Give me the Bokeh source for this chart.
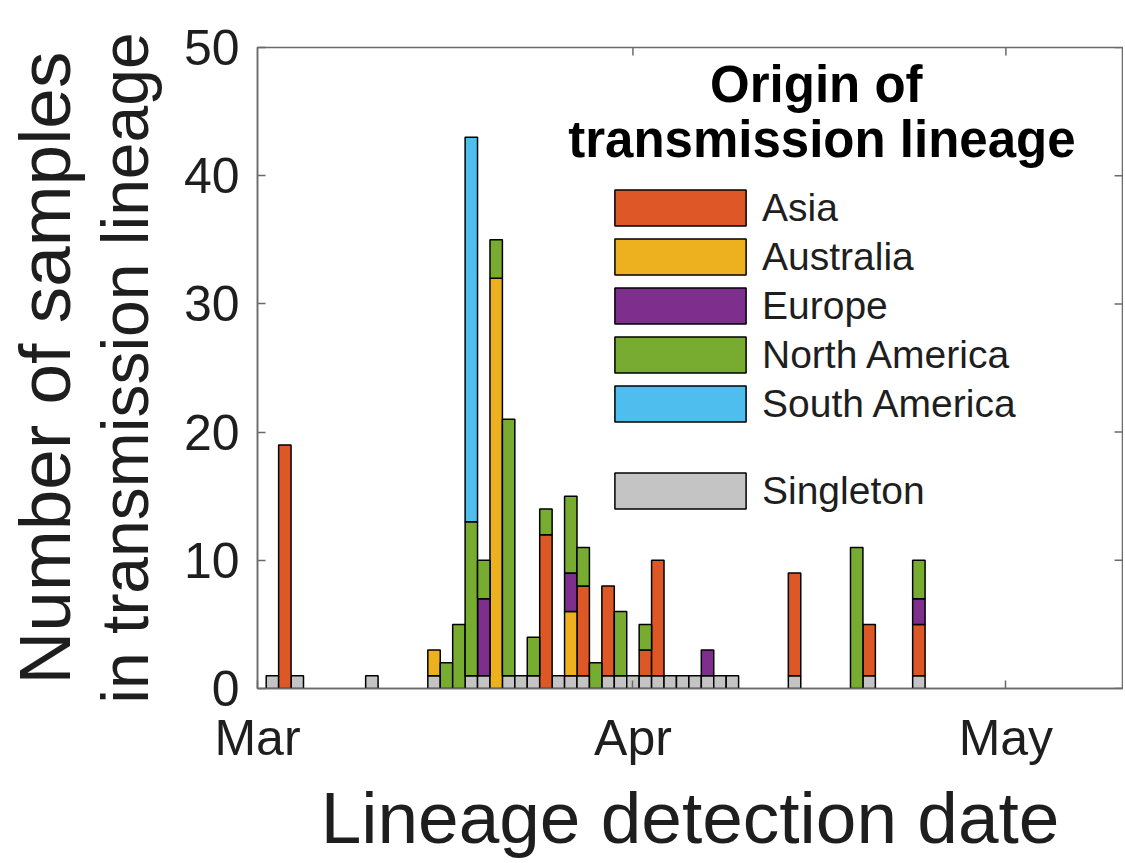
from datetime import date
from bokeh.plotting import figure
from bokeh.models import (Range1d, FixedTicker, LinearAxis, Legend, LegendItem,
                          Label, ColumnDataSource)
from bokeh.embed import file_html
from bokeh.resources import INLINE

# ---------------- data ----------------
detect_dates = [
    "2020-03-03", "2020-03-04", "2020-03-05", "2020-03-11", "2020-03-16",
    "2020-03-17", "2020-03-18", "2020-03-19", "2020-03-20", "2020-03-21",
    "2020-03-22", "2020-03-23", "2020-03-24", "2020-03-25", "2020-03-26",
    "2020-03-27", "2020-03-28", "2020-03-29", "2020-03-30", "2020-03-31",
    "2020-04-01", "2020-04-02", "2020-04-03", "2020-04-04", "2020-04-05",
    "2020-04-06", "2020-04-07", "2020-04-08", "2020-04-09", "2020-04-14",
    "2020-04-19", "2020-04-20", "2020-04-24",
]
singleton     = [1, 0, 1, 1, 1, 0, 0, 1, 1, 0, 1, 1, 1, 0, 1, 1, 1, 0, 1, 1,
                 1, 1, 1, 1, 1, 1, 1, 1, 1, 1, 0, 1, 1]
asia          = [0, 19, 0, 0, 0, 0, 0, 0, 0, 0, 0, 0, 0, 12, 0, 0, 7, 0, 7, 0,
                 0, 2, 9, 0, 0, 0, 0, 0, 0, 8, 0, 4, 4]
australia     = [0, 0, 0, 0, 2, 0, 0, 0, 0, 32, 0, 0, 0, 0, 0, 5, 0, 0, 0, 0,
                 0, 0, 0, 0, 0, 0, 0, 0, 0, 0, 0, 0, 0]
europe        = [0, 0, 0, 0, 0, 0, 0, 0, 6, 0, 0, 0, 0, 0, 0, 3, 0, 0, 0, 0,
                 0, 0, 0, 0, 0, 0, 2, 0, 0, 0, 0, 0, 2]
north_america = [0, 0, 0, 0, 0, 2, 5, 12, 3, 3, 20, 0, 3, 2, 0, 6, 3, 2, 0, 5,
                 0, 2, 0, 0, 0, 0, 0, 0, 0, 0, 11, 0, 3]
south_america = [0, 0, 0, 0, 0, 0, 0, 30, 0, 0, 0, 0, 0, 0, 0, 0, 0, 0, 0, 0,
                 0, 0, 0, 0, 0, 0, 0, 0, 0, 0, 0, 0, 0]

series_names = ["Singleton", "Asia", "Australia", "Europe", "North America", "South America"]
series_values = [singleton, asia, australia, europe, north_america, south_america]
series_colors = ["#C4C4C4", "#DE5726", "#EDB120", "#7E2F8E", "#77AC30", "#4DBEEE"]

tick_dates = ["2020-03-01", "2020-04-01", "2020-05-01"]
tick_labels = ["Mar", "Apr", "May"]
y_ticks = [0, 10, 20, 30, 40, 50]

origin = date(2020, 3, 1)
def day_index(s):
    return (date.fromisoformat(s) - origin).days

xs = [day_index(d) for d in detect_dates]
x_start, x_end = 0.8, 70.38
y_start, y_end = 0, 50

W, H = 1123, 862
FL, FR, FT, FB = 255, 1122, 47, 688          # frame edges on the canvas
ppd = (FR - FL) / (x_end - x_start)           # pixels per day
ppu = (FB - FT) / (y_end - y_start)           # pixels per count

FONT = "Liberation Sans"
TXT = "#1e1e1e"
AXC = "#6a6a6a"

p = figure(width=W, height=H, output_backend="svg", toolbar_location=None,
           x_range=Range1d(x_start, x_end), y_range=Range1d(y_start, y_end),
           min_border_left=FL, min_border_right=W - FR, min_border_top=FT,
           min_border_bottom=H - FB, background_fill_color="white",
           border_fill_color="white", outline_line_color=AXC,
           outline_line_width=1.5)
p.xgrid.visible = False
p.ygrid.visible = False

# ---------------- stacked bars ----------------
renderers = {}
bottoms = [0] * len(xs)
for name, vals, col in zip(series_names, series_values, series_colors):
    sel = [i for i, v in enumerate(vals) if v > 0]
    src = ColumnDataSource(dict(
        x=[xs[i] for i in sel],
        bottom=[bottoms[i] for i in sel],
        top=[bottoms[i] + vals[i] for i in sel],
    ))
    r = p.vbar(x="x", bottom="bottom", top="top", width=1.0, source=src,
               fill_color=col, line_color="black", line_width=1.5)
    renderers[name] = r
    bottoms = [b + v for b, v in zip(bottoms, vals)]

# ---------------- axes ----------------
x_tick_pos = [max(float(day_index(d)), x_start) for d in tick_dates]
p.xaxis.ticker = FixedTicker(ticks=x_tick_pos)
p.xaxis.major_label_overrides = {t: l for t, l in zip(x_tick_pos, tick_labels)}
p.xaxis.axis_label = "Lineage detection date"
p.yaxis.ticker = FixedTicker(ticks=y_ticks)
p.yaxis.axis_label = "in transmission lineage"

for ax in (p.xaxis[0], p.yaxis[0]):
    ax.axis_line_color = AXC
    ax.axis_line_width = 1.5
    ax.major_tick_in = 8
    ax.major_tick_out = 0
    ax.minor_tick_line_color = None
    ax.major_tick_line_color = AXC
    ax.major_tick_line_width = 1.5
    ax.major_label_text_font = FONT
    ax.major_label_text_font_size = "50px"
    ax.major_label_text_color = TXT
    ax.axis_label_text_font = FONT
    ax.axis_label_text_font_style = "normal"
    ax.axis_label_text_color = TXT

p.xaxis.axis_label_text_font_size = "73px"
p.yaxis.axis_label_text_font_size = "66px"
p.xaxis.major_label_standoff = 21
p.xaxis.axis_label_standoff = 8
p.yaxis.major_label_standoff = 18
p.yaxis.axis_label_standoff = 19

# outer line of the y title
outer = LinearAxis(ticker=FixedTicker(ticks=[]), axis_label="Number of samples",
                   axis_line_color=None, major_tick_in=0, major_tick_out=0,
                   minor_tick_line_color=None, major_label_standoff=0,
                   axis_label_standoff=0, axis_label_text_font=FONT,
                   axis_label_text_font_style="normal",
                   axis_label_text_color=TXT, axis_label_text_font_size="73px")
p.add_layout(outer, "left")

# mirrored inward ticks on the top and right sides of the box
n = len(y_ticks)
p.segment(x0=[x_end] * n, y0=y_ticks, x1=[x_end - 8 / ppd] * n, y1=y_ticks,
          line_color=AXC, line_width=1.5)
top_ticks = [float(day_index(d)) for d in tick_dates[1:]]
p.segment(x0=top_ticks, y0=[y_end] * len(top_ticks), x1=top_ticks,
          y1=[y_end - 8 / ppu] * len(top_ticks), line_color=AXC, line_width=1.5)

# ---------------- legend ----------------
def make_legend(names, loc):
    return Legend(items=[LegendItem(label=nm, renderers=[renderers[nm]]) for nm in names],
                  location=loc, glyph_width=164, glyph_height=45, spacing=4,
                  padding=0, margin=0, label_standoff=0,
                  label_text_font=FONT, label_text_font_size="39px",
                  label_text_color=TXT, border_line_color=None,
                  background_fill_alpha=0)

p.add_layout(make_legend(series_names[1:], (341, 262)))
p.add_layout(make_legend(series_names[:1], (341, 175)))

for txt, xx, yy in [("Origin of", 45.75, 47.15), ("transmission lineage", 46.2, 42.85)]:
    p.add_layout(Label(x=xx, y=yy, text=txt, text_align="center",
                       text_baseline="alphabetic", text_font=FONT,
                       text_font_size="51px", text_font_style="bold",
                       text_color="black"))

open("out.html", "w").write(file_html(p, INLINE))
